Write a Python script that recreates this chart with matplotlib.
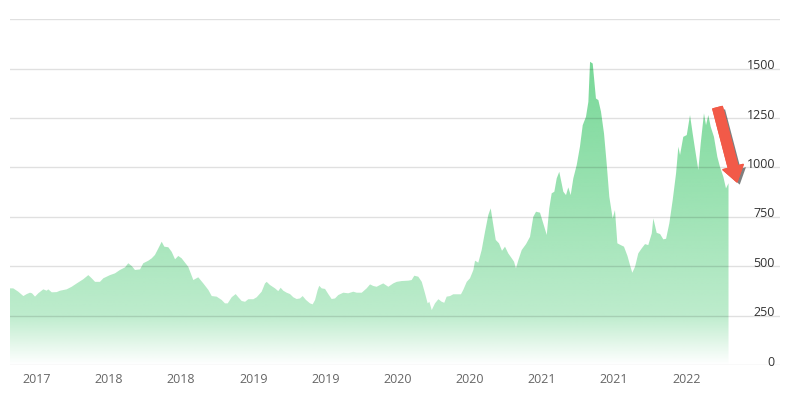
import numpy as np
import matplotlib
matplotlib.use("Agg")
import matplotlib.pyplot as plt
from matplotlib.patches import FancyArrowPatch
import matplotlib.patheffects as pe
from matplotlib import transforms

# time in months relative to the first labelled tick
months = [-2.22, -1.95, -1.53, -1.11, -0.83, -0.56, -0.39, -0.14, 0.13, 0.55, 0.83, 0.96,
          1.25, 1.66, 1.94, 2.49, 2.91, 3.33, 3.87, 4.29, 4.57, 4.85, 5.26, 5.54, 6.09,
          6.51, 6.92, 7.34, 7.61, 7.90, 8.17, 8.59, 8.86, 9.28, 9.56, 9.83, 10.11, 10.39,
          10.61, 10.94, 11.22, 11.50, 11.77, 12.05, 12.33, 12.60, 13.02, 13.43, 13.85,
          14.27, 14.55, 14.96, 15.38, 15.65, 15.88, 16.21, 16.54, 16.76, 17.04, 17.32,
          17.59, 18.01, 18.29, 18.70, 18.98, 19.12, 19.39, 19.81, 20.08, 20.28, 20.50,
          20.78, 21.06, 21.33, 21.61, 21.89, 22.11, 22.39, 22.72, 22.94, 23.14, 23.36,
          23.49, 23.69, 23.97, 24.24, 24.52, 24.80, 25.07, 25.49, 25.90, 26.32, 26.60,
          27.02, 27.43, 27.71, 27.98, 28.26, 28.54, 28.81, 29.23, 29.64, 29.93, 30.34,
          30.89, 31.17, 31.39, 31.72, 32.01, 32.28, 32.50, 32.64, 32.84, 33.11, 33.39,
          33.67, 33.88, 34.08, 34.36, 34.63, 35.27, 35.46, 35.75, 36.02, 36.30, 36.44,
          36.71, 36.99, 37.27, 37.54, 37.74, 37.96, 38.16, 38.43, 38.68, 38.93, 39.20,
          39.49, 39.68, 39.84, 40.04, 40.32, 40.68, 41.01, 41.28, 41.51, 41.84, 42.11,
          42.40, 42.61, 42.81, 43.03, 43.23, 43.44, 43.64, 43.78, 44.00, 44.19, 44.39,
          44.61, 44.89, 45.16, 45.39, 45.66, 45.86, 46.00, 46.22, 46.49, 46.69, 46.91,
          47.16, 47.38, 47.60, 47.88, 48.07, 48.27, 48.55, 48.82, 49.11, 49.32, 49.51,
          49.74, 50.01, 50.29, 50.57, 50.84, 51.13, 51.26, 51.54, 51.82, 52.09, 52.32,
          52.59, 52.87, 53.15, 53.34, 53.48, 53.75, 54.04, 54.31, 54.53, 54.72, 55.00,
          55.20, 55.47, 55.64, 55.83, 56.03, 56.30, 56.58, 56.80, 57.08, 57.30, 57.51]

values = [388, 388, 371, 349, 359, 366, 363, 346, 363, 383, 376, 383,
          368, 369, 376, 383, 396, 413, 434, 455, 439, 421, 421, 439, 455,
          464, 481, 494, 515, 501, 481, 484, 515, 528, 540, 557, 590, 624,
          599, 596, 573, 535, 552, 540, 518, 497, 430, 444, 413,
          380, 349, 346, 329, 312, 312, 343, 359, 343, 324, 320,
          333, 333, 343, 371, 413, 421, 405, 388, 374, 391, 376,
          366, 359, 343, 334, 337, 349, 329, 312, 307, 329, 380,
          401, 388, 385, 359, 334, 337, 354, 366, 363, 371, 366,
          366, 388, 408, 400, 396, 405, 413, 396, 413, 421, 425,
          427, 430, 452, 447, 421, 363, 312, 320, 278, 312, 333,
          320, 315, 346, 349, 358, 358, 380, 421, 439, 481, 528,
          518, 582, 675, 759, 793, 708, 633, 616, 578, 599, 565,
          540, 523, 489, 531, 582, 612, 649, 750, 776, 771, 717,
          658, 793, 869, 877, 945, 978, 919, 877, 860, 899, 860,
          945, 1012, 1105, 1214, 1256, 1332, 1535, 1526, 1349, 1341, 1282,
          1172, 1021, 852, 742, 784, 616, 607, 599, 552, 506, 467,
          497, 565, 590, 612, 607, 666, 742, 669, 663, 636, 639,
          717, 835, 970, 1105, 1063, 1155, 1164, 1265, 1172, 1096, 987,
          1122, 1274, 1214, 1265, 1206, 1155, 1054, 1003, 953, 894, 920]

tick_months = [0, 6, 12, 18, 24, 30, 36, 42, 48, 54]
tick_labels = ["2017", "2018", "2018", "2019", "2019", "2020", "2020", "2021", "2021", "2022"]
grid_values = [0, 250, 500, 750, 1000, 1250, 1500, 1750]
label_values = [0, 250, 500, 750, 1000, 1250, 1500]

plt.rcParams["font.family"] = ["Open Sans", "DejaVu Sans"]

fig = plt.figure(figsize=(7.95, 3.98), dpi=100)
ax = fig.add_axes([10 / 795, 33 / 398, 770 / 795, 345.7 / 398])
xmin, xmax = -2.22, 61.79
ax.set_xlim(xmin, xmax)
ax.set_ylim(0, 1750)

# area with vertical gradient
poly = ax.fill_between(months, values, 0, facecolor="none", edgecolor="none")
ny = 500
v = np.linspace(0, 1750, ny)
alpha = np.interp(v, [0, 80, 250, 750, 1550, 1750], [0.0, 0.14, 0.45, 0.65, 0.93, 1.0])
base = np.array([109, 213, 143]) / 255.0
img = np.zeros((ny, 2, 4))
img[:, :, :3] = base
img[:, :, 3] = alpha[:, None]
im = ax.imshow(img, extent=[xmin, xmax, 0, 1750], origin="lower", aspect="auto",
               zorder=1, interpolation="bilinear")
im.set_clip_path(poly.get_paths()[0], transform=ax.transData)

for g in grid_values:
    ax.axhline(g, color="black", alpha=0.12, lw=1, zorder=2)

off = transforms.ScaledTranslation(-5 / 100, -0.5 / 100, fig.dpi_scale_trans)
trans = transforms.blended_transform_factory(ax.transAxes, ax.transData) + off
for lv in label_values:
    ax.text(1, lv, str(lv), transform=trans, ha="right", va="baseline",
            fontsize=9, color="#333333", zorder=3)

ax.set_yticks([])
ax.set_xticks(tick_months)
ax.set_xticklabels(tick_labels, fontsize=9, color="#666666")
ax.tick_params(axis="x", length=0, pad=6)
for s in ax.spines.values():
    s.set_visible(False)

arrow = FancyArrowPatch((0.918, 0.752), (0.945, 0.522), transform=ax.transAxes,
                        arrowstyle="simple,head_length=1.1,head_width=1.5,tail_width=0.7",
                        mutation_scale=10, color="#f25a48", zorder=5, joinstyle="round",
                        capstyle="round",
                        path_effects=[pe.withSimplePatchShadow(offset=(2, -2), shadow_rgbFace="black", alpha=0.5),
                                      pe.Normal()])
ax.add_patch(arrow)

fig.savefig("out.png", dpi=100, facecolor="white")
